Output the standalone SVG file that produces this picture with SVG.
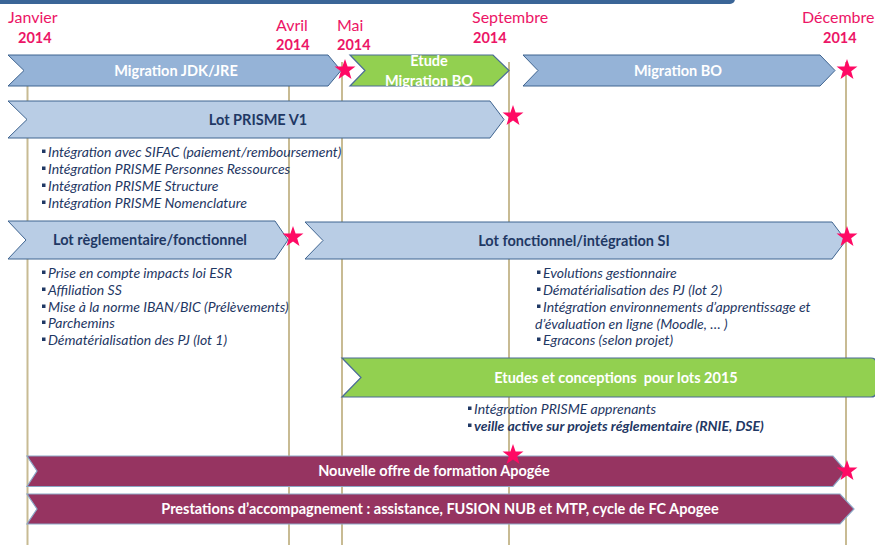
<svg xmlns="http://www.w3.org/2000/svg" width="875" height="545" viewBox="0 0 875 545">
<defs>
<style>
.grid{stroke:#c8bb93;stroke-width:2}
.hdr{font-family:Lato,"Liberation Sans",sans-serif;fill:#ec1566;font-size:16px}
.yr{font-family:Lato,"Liberation Sans",sans-serif;fill:#ec1566;font-size:14.5px;font-weight:bold}
.ab{fill:#95b3d7;stroke:#3f6490;stroke-width:1}
.al{fill:#b9cde5;stroke:#3f6490;stroke-width:1}
.ag{fill:#92d050;stroke:#4a6b95;stroke-width:1.2}
.ap{fill:#963461;stroke:#8ba7c6;stroke-width:1.2}
.tw{font-family:Lato,"Liberation Sans",sans-serif;fill:#ffffff;font-size:14.5px;font-weight:bold;text-anchor:middle;white-space:pre}
.tn{font-family:Lato,"Liberation Sans",sans-serif;fill:#1f3864;font-size:14.5px;font-weight:bold;text-anchor:middle}
.bl{font-family:Lato,"Liberation Sans",sans-serif;fill:#1f3864;font-size:14px;font-style:italic}
.bb{font-family:Lato,"Liberation Sans",sans-serif;fill:#1f3864;font-size:14px;font-style:italic;font-weight:bold}
.sq{fill:#1f3864}
.star{fill:#ff0a64}
</style>
<path id="star" d="M0,-11 L2.59,-3.56 L10.46,-3.4 L4.18,1.36 L6.47,8.9 L0,4.4 L-6.47,8.9 L-4.18,1.36 L-10.46,-3.4 L-2.59,-3.56 Z"/>
<rect id="sq" x="0" y="-7.5" width="3.5" height="3.5"/>
</defs>
<rect x="-10" y="-6" width="745" height="10" rx="5" fill="#3a6597"/>

<g id="connectors">
<line class="grid" x1="27.5" y1="62" x2="27.5" y2="545"/>
<line class="grid" x1="289" y1="62" x2="289" y2="545"/>
<line class="grid" x1="342" y1="62" x2="342" y2="545"/>
<line class="grid" x1="509" y1="62" x2="509" y2="545"/>
<line class="grid" x1="846" y1="62" x2="846" y2="545"/>
</g>

<g id="header">
<text class="hdr" x="8" y="23">Janvier</text>
<text class="yr" x="18" y="43">2014</text>
<text class="hdr" x="276" y="31">Avril</text>
<text class="yr" x="276" y="50">2014</text>
<text class="hdr" x="337" y="31">Mai</text>
<text class="yr" x="337" y="50">2014</text>
<text class="hdr" x="472" y="23">Septembre</text>
<text class="yr" x="473" y="43">2014</text>
<text class="hdr" x="802" y="23">Décembre</text>
<text class="yr" x="823" y="43">2014</text>
</g>

<g id="migration-jdk">
<polygon class="ab" points="8,55 328,55 341,70.5 328,86 8,86 24,70.5"/>
<text class="tw" x="176" y="75.5">Migration JDK/JRE</text>
</g>
<g id="etude-migration-bo">
<polygon class="ag" points="350,55 493,55 509,70.5 493,86 350,86 365,70.5"/>
<text class="tw" x="429" y="66">Etude</text>
<text class="tw" x="429" y="86">Migration BO</text>
</g>
<g id="migration-bo">
<polygon class="ab" points="523,55 820,55 835,70.5 820,86 523,86 538,70.5"/>
<text class="tw" x="678" y="75.5">Migration BO</text>
</g>

<g id="lot-prisme">
<polygon class="al" points="8,101 490,101 504,119.5 490,138 8,138 27,119.5"/>
<text class="tn" x="258" y="124.5">Lot PRISME V1</text>
<use href="#sq" class="sq" x="42" y="157"/>
<text class="bl" x="48" y="157">Intégration avec SIFAC (paiement/remboursement)</text>
<use href="#sq" class="sq" x="42" y="174"/>
<text class="bl" x="48" y="174">Intégration PRISME Personnes Ressources</text>
<use href="#sq" class="sq" x="42" y="191"/>
<text class="bl" x="48" y="191">Intégration PRISME Structure</text>
<use href="#sq" class="sq" x="42" y="208"/>
<text class="bl" x="48" y="208">Intégration PRISME Nomenclature</text>
</g>

<g id="lot-reglementaire">
<polygon class="al" points="8,221 275,221 288,240 275,259 8,259 26,240"/>
<text class="tn" x="150" y="245">Lot règlementaire/fonctionnel</text>
<use href="#sq" class="sq" x="42" y="278"/>
<text class="bl" x="48" y="278">Prise en compte impacts loi ESR</text>
<use href="#sq" class="sq" x="42" y="295"/>
<text class="bl" x="48" y="295">Affiliation SS</text>
<use href="#sq" class="sq" x="42" y="312"/>
<text class="bl" x="48" y="312">Mise à la norme IBAN/BIC (Prélèvements)</text>
<use href="#sq" class="sq" x="42" y="328"/>
<text class="bl" x="48" y="328">Parchemins</text>
<use href="#sq" class="sq" x="42" y="345"/>
<text class="bl" x="48" y="345">Dématérialisation des PJ (lot 1)</text>
</g>

<g id="lot-fonctionnel">
<polygon class="al" points="305,222 832,222 846,240.5 832,259 305,259 323,240.5"/>
<text class="tn" x="574" y="245.5">Lot fonctionnel/intégration SI</text>
<use href="#sq" class="sq" x="537" y="278"/>
<text class="bl" x="543" y="278">Evolutions gestionnaire</text>
<use href="#sq" class="sq" x="537" y="295"/>
<text class="bl" x="543" y="295">Dématérialisation des PJ (lot 2)</text>
<use href="#sq" class="sq" x="537" y="312"/>
<text class="bl" x="543" y="312">Intégration environnements d’apprentissage et</text>
<text class="bl" x="535" y="329">d’évaluation en ligne (Moodle, … )</text>
<use href="#sq" class="sq" x="537" y="345"/>
<text class="bl" x="543" y="345">Egracons (selon projet)</text>
</g>

<g id="etudes-2015">
<path class="ag" d="M342,358 L871,358 Q876,358 876,363 L876,392 Q876,397 871,397 L342,397 L361,377.5 Z"/>
<text class="tw" x="616" y="383" xml:space="preserve">Etudes et conceptions  pour lots 2015</text>
<use href="#sq" class="sq" x="468" y="414"/>
<text class="bl" x="474" y="414">Intégration PRISME apprenants</text>
<use href="#sq" class="sq" x="468" y="431"/>
<text class="bb" x="474" y="431">veille active sur projets réglementaire (RNIE, DSE)</text>
</g>

<g id="nouvelle-offre">
<polygon class="ap" points="27,456 833,456 846,471 833,486.5 27,486.5 37,471"/>
<text class="tw" x="434" y="476">Nouvelle offre de formation Apogée</text>
</g>
<g id="prestations">
<polygon class="ap" points="27,494 840,494 854,509 840,524 27,524 37,509"/>
<text class="tw" x="440" y="514">Prestations d’accompagnement : assistance, FUSION NUB et MTP, cycle de FC Apogee</text>
</g>

<g id="milestones">
<use href="#star" class="star" x="345" y="70"/>
<use href="#star" class="star" x="847" y="70"/>
<use href="#star" class="star" x="513" y="116"/>
<use href="#star" class="star" x="293" y="237"/>
<use href="#star" class="star" x="847" y="237"/>
<use href="#star" class="star" x="513" y="455"/>
<use href="#star" class="star" x="847" y="471"/>
</g>
</svg>
